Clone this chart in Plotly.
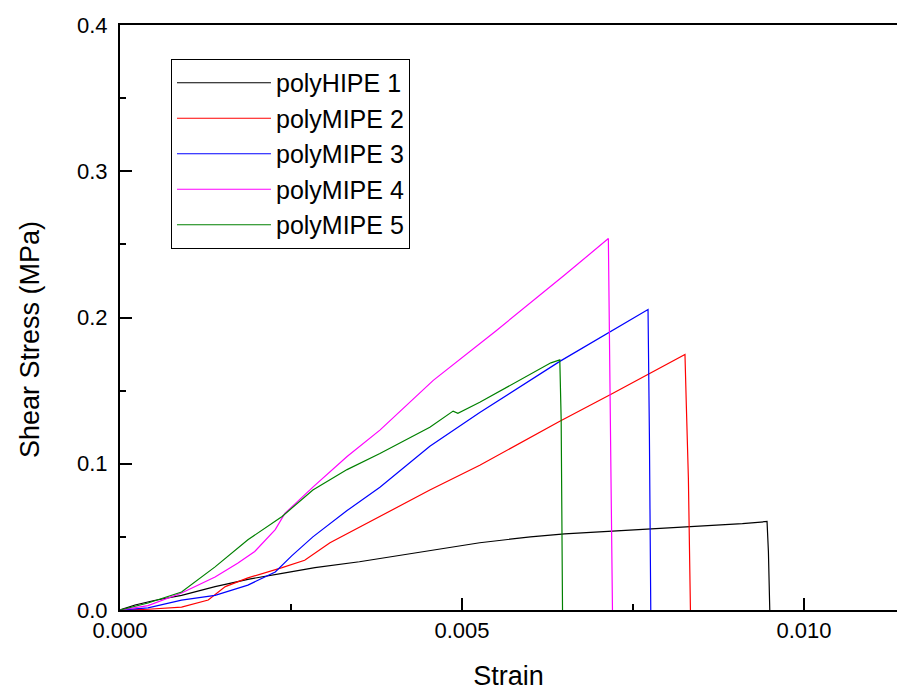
import plotly.graph_objects as go

series_names = ["polyHIPE 1", "polyMIPE 2", "polyMIPE 3", "polyMIPE 4", "polyMIPE 5"]
series_colors = ["#000000", "#FF0000", "#0000FF", "#FF00FF", "#008000"]

strain_1 = [0, 0.0001, 0.00022, 0.0005, 0.0009, 0.00139, 0.00187, 0.00237, 0.00285, 0.0035, 0.0042,
            0.00526, 0.006, 0.0065, 0.0072, 0.0078, 0.0085, 0.0091, 0.00946, 0.00948, 0.0095]
stress_1 = [0, 0.0015, 0.0034, 0.0065, 0.010, 0.016, 0.021, 0.025, 0.029, 0.033, 0.038,
            0.046, 0.050, 0.052, 0.054, 0.0555, 0.057, 0.059, 0.0605, 0.04, 0]

strain_2 = [0, 0.00041, 0.0009, 0.00129, 0.00154, 0.00187, 0.00237, 0.0027, 0.00307, 0.0038, 0.00453,
            0.00526, 0.00643, 0.0072, 0.00826, 0.00828, 0.00831, 0.00834]
stress_2 = [0, 0.0005, 0.002, 0.0068, 0.016, 0.022, 0.029, 0.034, 0.046, 0.064, 0.082,
            0.099, 0.129, 0.148, 0.1747, 0.14, 0.09, 0]

strain_3 = [0, 0.00041, 0.0009, 0.00139, 0.00187, 0.00227, 0.00251, 0.00282, 0.00332, 0.0038, 0.00453,
            0.00526, 0.00643, 0.00716, 0.00772, 0.00774, 0.00776]
stress_3 = [0, 0.0014, 0.0068, 0.010, 0.017, 0.026, 0.037, 0.050, 0.068, 0.084, 0.112,
            0.135, 0.170, 0.190, 0.2055, 0.12, 0]

strain_4 = [0, 0.00041, 0.0009, 0.00139, 0.00172, 0.00197, 0.00227, 0.00241, 0.00282, 0.00332, 0.0038,
            0.00458, 0.0055, 0.0065, 0.00714, 0.00716, 0.0072]
stress_4 = [0, 0.003, 0.0116, 0.0226, 0.032, 0.040, 0.055, 0.066, 0.084, 0.105, 0.123,
            0.157, 0.191, 0.229, 0.254, 0.18, 0]

strain_5 = [0, 0.00041, 0.0009, 0.00139, 0.00187, 0.00237, 0.00282, 0.00332, 0.0038, 0.00453, 0.00487,
            0.00494, 0.00526, 0.00607, 0.0063, 0.00643, 0.00645, 0.00647]
stress_5 = [0, 0.0048, 0.0123, 0.0295, 0.048, 0.064, 0.082, 0.096, 0.107, 0.125, 0.136,
            0.1345, 0.142, 0.163, 0.169, 0.171, 0.13, 0]

strains = [strain_1, strain_2, strain_3, strain_4, strain_5]
stresses = [stress_1, stress_2, stress_3, stress_4, stress_5]

FONT = "Liberation Sans, Arial, sans-serif"

fig = go.Figure()
for name, color, x, y in zip(series_names, series_colors, strains, stresses):
    fig.add_trace(go.Scatter(x=x, y=y, mode="lines", name=name,
                             line=dict(color=color, width=1.2)))

fig.update_layout(
    width=897, height=691,
    margin=dict(l=120, r=0, t=25, b=81, autoexpand=False),
    paper_bgcolor="white", plot_bgcolor="white",
    font=dict(family=FONT, color="black"),
    showlegend=True,
    legend=dict(x=0.0656, y=0.9419, xanchor="left", yanchor="top",
                bordercolor="black", borderwidth=1, bgcolor="white",
                font=dict(family=FONT, size=25), itemwidth=94,
                tracegroupgap=0),
    annotations=[dict(text="Shear Stress (MPa)", textangle=-90,
                      xref="paper", yref="paper", x=-0.1158, y=0.4615,
                      xanchor="center", yanchor="middle", showarrow=False,
                      font=dict(family=FONT, size=27, color="black"))],
)
fig.update_xaxes(
    range=[0, 0.01136], dtick=0.005, tick0=0, tickformat=".3f",
    showgrid=False, zeroline=False, automargin=False,
    showline=True, linecolor="black", linewidth=2, mirror=True,
    ticks="inside", ticklen=12, tickwidth=2, tickcolor="black",
    minor=dict(ticks="inside", ticklen=6, tickwidth=2, tickcolor="black", dtick=0.0025, showgrid=False),
    tickfont=dict(family=FONT, size=22),
    title=dict(text="Strain", font=dict(family=FONT, size=27), standoff=25),
)
fig.update_yaxes(
    range=[0, 0.4], dtick=0.1, tick0=0, tickformat=".1f",
    showgrid=False, zeroline=False, automargin=False,
    showline=True, linecolor="black", linewidth=2,
    ticks="inside", ticklen=12, tickwidth=2, tickcolor="black",
    minor=dict(ticks="inside", ticklen=6, tickwidth=2, tickcolor="black", dtick=0.05, showgrid=False),
    ticklabelstandoff=6,
    tickfont=dict(family=FONT, size=22),
)

fig.write_html("out.html", config={"displayModeBar": False},
               post_script="document.body.style.margin='0';document.body.style.overflow='hidden';")
